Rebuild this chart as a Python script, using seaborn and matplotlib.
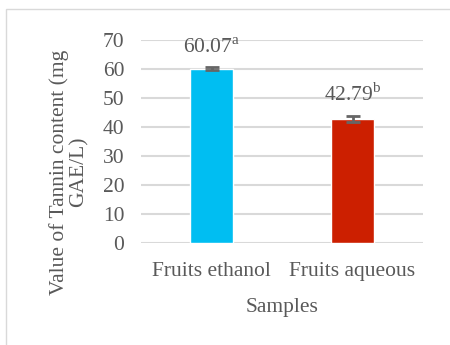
import matplotlib
matplotlib.use("Agg")
import matplotlib.pyplot as plt
from matplotlib.patches import Rectangle
import seaborn as sns
import pandas as pd

samples = ["Fruits ethanol", "Fruits aqueous"]
tannin = [60.07, 42.79]
errors = [0.5, 1.1]
letters = ["a", "b"]
colors = ["#00BEF2", "#CC1F00"]

sns.set_theme(style="white")
plt.rcParams["font.family"] = ["Liberation Serif", "DejaVu Serif"]
plt.rcParams["mathtext.fontset"] = "custom"
plt.rcParams["mathtext.rm"] = "Liberation Serif"

text_col = "#595959"
grid_col = "#D9D9D9"
fs = 15.5

fig = plt.figure(figsize=(4.5, 3.45), dpi=100)
fig.patch.set_facecolor("white")
fig.patches.append(Rectangle((6 / 450, -0.1), 1.5, 1 - 9 / 345 + 0.1,
                             transform=fig.transFigure, fill=False,
                             edgecolor="#D9D9D9", linewidth=1.0))

ax = fig.add_axes([141 / 450, 1 - 243 / 345, 282 / 450, 203 / 345])
df = pd.DataFrame({"Samples": samples, "Tannin": tannin})
sns.barplot(data=df, x="Samples", y="Tannin", hue="Samples", palette=colors,
            width=0.31, legend=False, ax=ax, zorder=2, saturation=1)
ax.errorbar(range(len(samples)), tannin, yerr=errors, fmt="none",
            ecolor="#666666", elinewidth=2, capsize=5, capthick=2, zorder=3)

for i, (v, e, l) in enumerate(zip(tannin, errors, letters)):
    ax.annotate(f"{v:.2f}" + r"$^{\mathrm{" + l + "}}$", (i, v + e),
                xytext=(0, 7), textcoords="offset points", ha="center",
                va="bottom", fontsize=fs, color=text_col)

ax.set_ylim(0, 70)
ax.set_yticks(range(0, 71, 10))
ax.set_xlim(-0.5, 1.5)
ax.yaxis.grid(True, color=grid_col, linewidth=1.5, zorder=0)
ax.set_axisbelow(True)
for s in ax.spines.values():
    s.set_visible(False)
ax.tick_params(axis="both", length=0, labelsize=fs, labelcolor=text_col)
ax.tick_params(axis="y", pad=12)
ax.tick_params(axis="x", pad=14)
ax.set_xlabel("Samples", fontsize=fs, color=text_col, labelpad=12)
ax.set_ylabel("")
fig.text(69 / 450, 1 - 172 / 345, "Value of Tannin content (mg\nGAE/L)",
         rotation=90, ha="center", va="center", fontsize=fs,
         color=text_col, linespacing=1.0, multialignment="center")

fig.savefig("out.png", dpi=100, facecolor="white")
